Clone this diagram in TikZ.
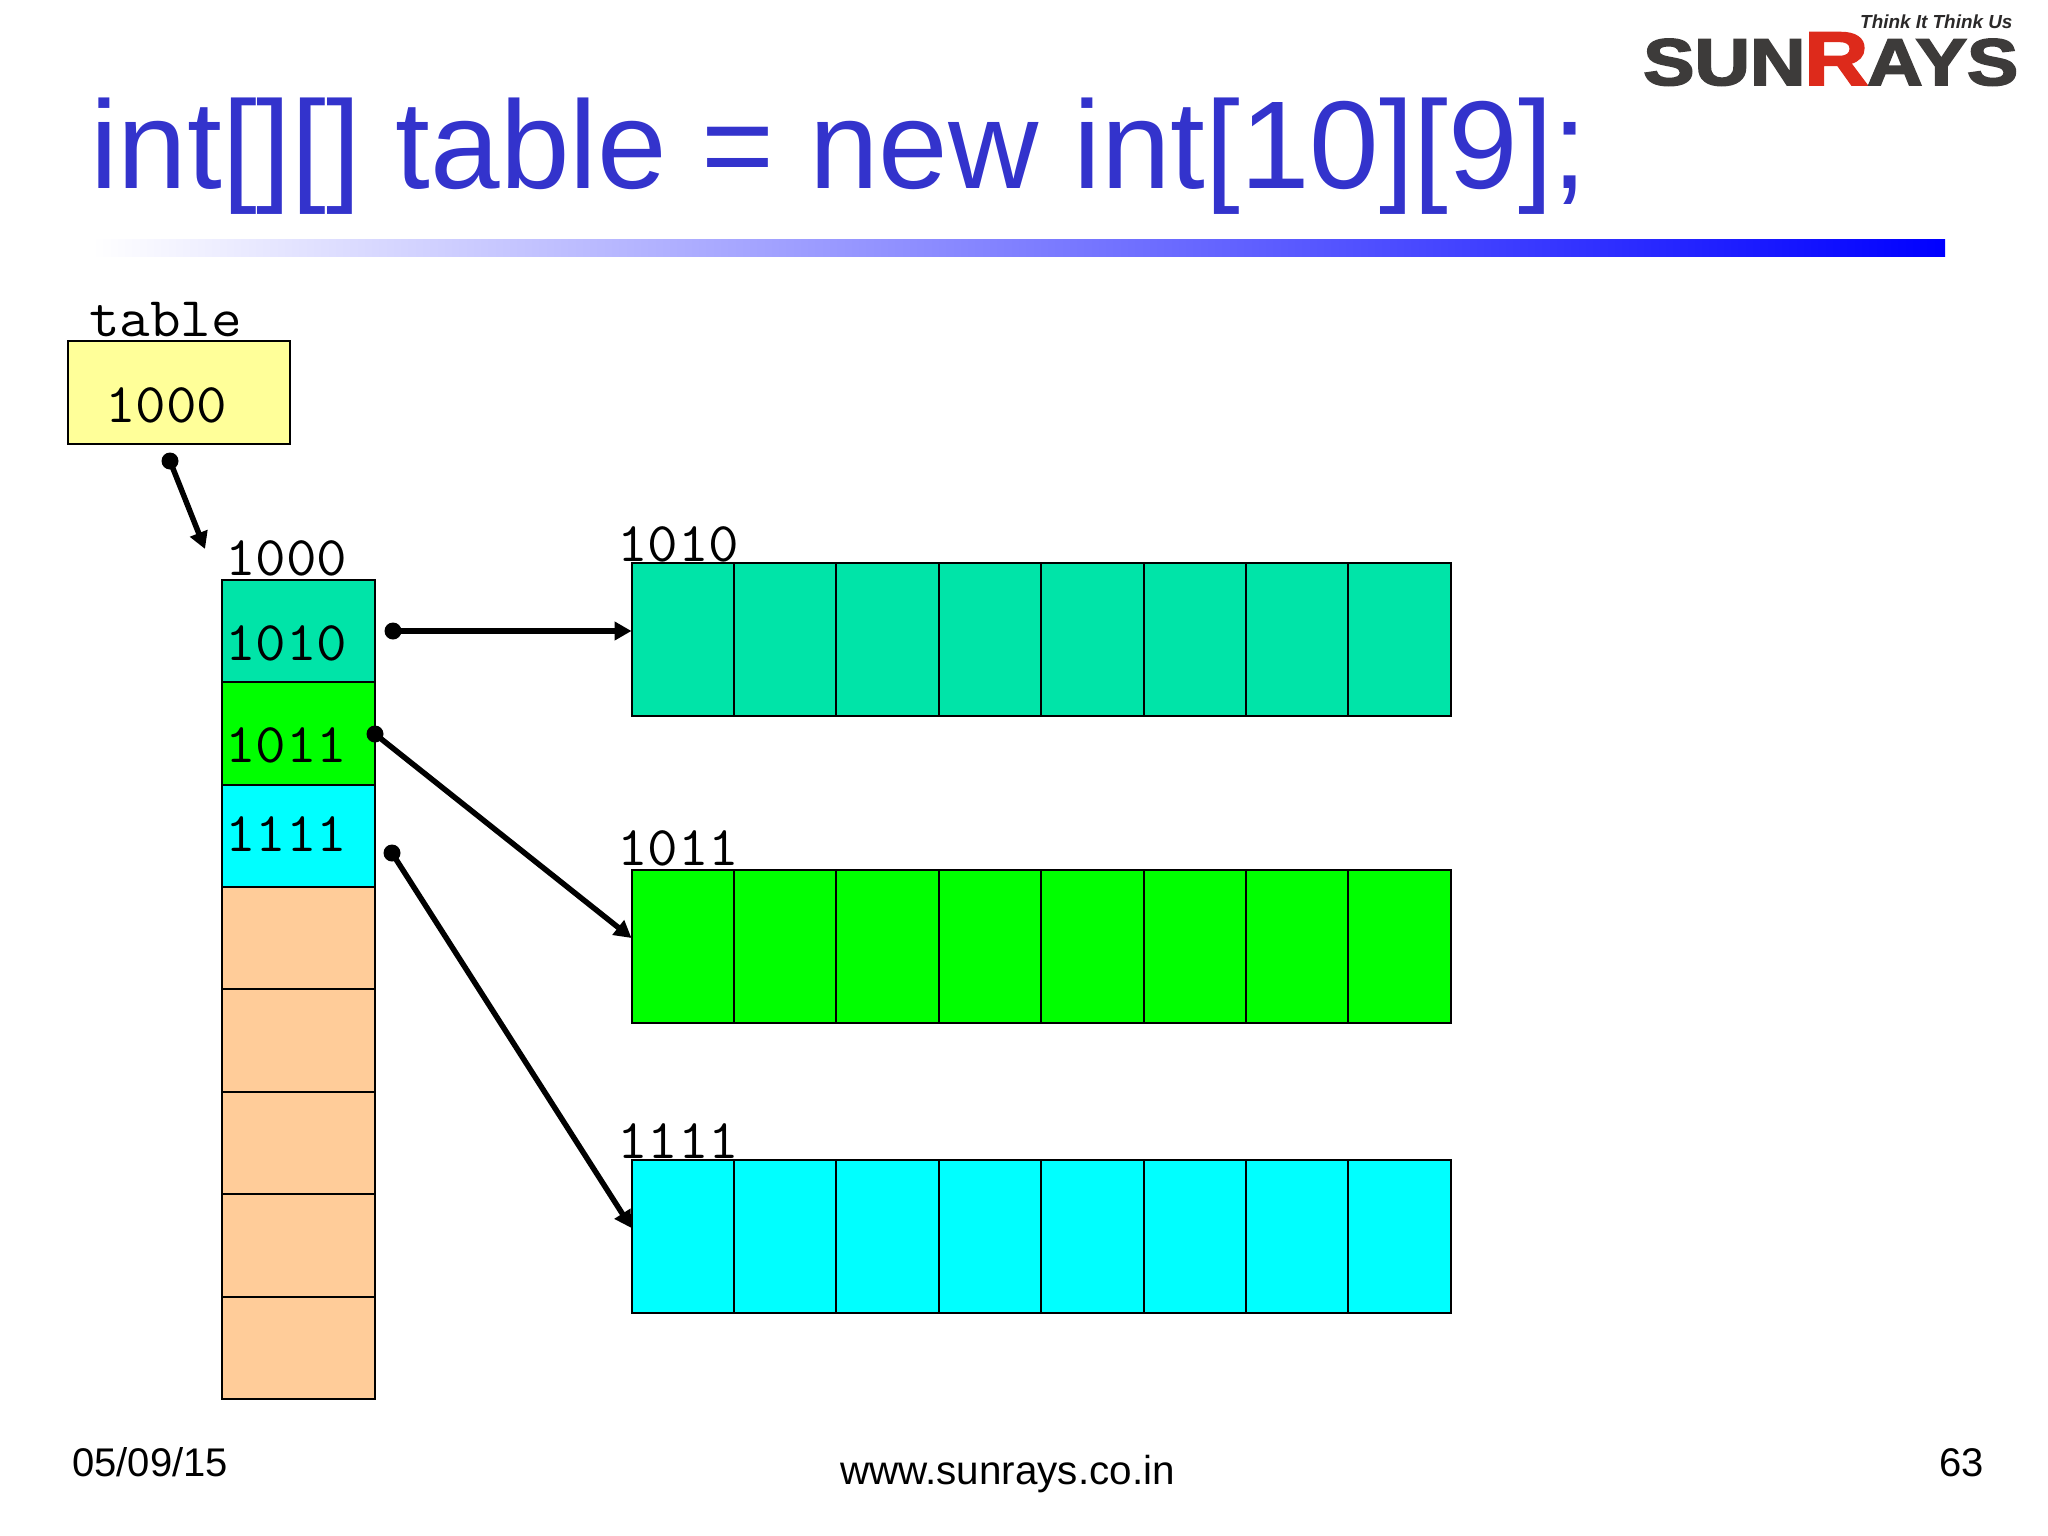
\documentclass[tikz,border=0pt]{standalone}
\usepackage{fontspec}
\usetikzlibrary{arrows.meta}
\setmainfont{Liberation Sans}
\setmonofont[FakeStretch=1.06]{Latin Modern Mono}
\newfontfamily\logofont[BoldFeatures={FakeBold=2.6}]{Liberation Sans}
\definecolor{titleblue}{HTML}{3333CC}
\definecolor{tealc}{HTML}{00E4A8}
\definecolor{greenc}{HTML}{00FF00}
\definecolor{cyanc}{HTML}{00FFFF}
\definecolor{peachc}{HTML}{FFCC99}
\definecolor{yellowc}{HTML}{FFFF99}
\definecolor{logodark}{HTML}{3D3B3A}
\definecolor{logored}{HTML}{DD2A1B}
\tikzset{
  txt/.style={inner sep=0pt,anchor=base west},
  mono/.style={txt,font=\fontsize{56}{60}\selectfont\ttfamily},
  foot/.style={txt,font=\fontsize{40}{44}\selectfont,text=black},
  cell/.style={draw=black,line width=2pt,minimum width=153.5pt,minimum height=102.4pt,inner sep=0pt},
  acell/.style={draw=black,line width=2pt,minimum width=102.4pt,minimum height=153pt,inner sep=0pt},
  dotn/.style={circle,fill=black,inner sep=0pt,minimum size=17pt},
  ptr/.style={line width=5.5pt,-{Triangle[length=17pt,width=18pt]}}
}
\begin{document}
\begin{tikzpicture}[x=1pt,y=-1pt]
\useasboundingbox (0,0) rectangle (2048,1536);
% title
\node[txt,text=titleblue,font=\fontsize{125}{130}\selectfont] (title) at (90,189) {int[][] table = new int[10][9];};
\shade[left color=white,right color=blue] (92,239) rectangle (1945,256);
% logo
\node[txt,font=\fontsize{18.9}{20}\logofont\bfseries\itshape\selectfont,text=logodark!70!black] (tag) at (1860,29) {Think It Think Us};
\node[txt] (logo) at (1643,85) {\scalebox{1.165}[1]{\fontsize{66}{70}\logofont\bfseries\selectfont\color{logodark}SUN\kern-1pt{\fontsize{76}{80}\selectfont\color{logored}R}\kern-1pt AYS}};
% table box
\node[draw=black,line width=2pt,fill=yellowc,minimum width=222pt,minimum height=103pt,inner sep=0pt] (tbl) at (179,392.5) {};
\node[mono] (tbllabel) at (89,336) {table};
\node[mono] (tblval) at (105,422) {1000};
% column
\foreach \n/\y/\c in {r1/631/tealc,r2/733.5/greenc,r3/836/cyanc,r4/938/peachc,r5/1040.5/peachc,r6/1143/peachc,r7/1245.5/peachc,r8/1348/peachc}
  \node[cell,fill=\c] (\n) at (298.7,\y) {};
\node[mono] (collabel) at (225,575) {1000};
\node[mono] (v1) at (225,660) {1010};
\node[mono] (v2) at (225,762) {1011};
\node[mono] (v3) at (225,851) {1111};
% arrays
\foreach \i/\x in {1/682.7,2/785.1,3/887.5,4/989.9,5/1092.3,6/1194.7,7/1297.1,8/1399.5}{
  \node[acell,fill=tealc] (a\i) at (\x,639.5) {};
  \node[acell,fill=greenc] (b\i) at (\x,946.5) {};
  \node[acell,fill=cyanc] (c\i) at (\x,1236.5) {};
}
\node[mono] (alabel) at (617,561) {1010};
\node[mono] (blabel) at (617,865) {1011};
\node[mono] (clabel) at (617,1158) {1111};
% pointers
\node[dotn] (d0) at (170,461) {};
\node[dotn] (d1) at (393,631) {};
\node[dotn] (d2) at (375,734) {};
\node[dotn] (d3) at (392,853) {};
\coordinate (t0) at (205,549);
\coordinate (t1) at (631.5,631);
\coordinate (t2) at (631.5,938);
\coordinate (t3) at (631.5,1228);
\draw[ptr] (d0.center) -- (t0);
\draw[ptr] (d1.center) -- (t1);
\draw[ptr] (d2.center) -- (t2);
\draw[ptr] (d3.center) -- (t3);
% footer
\node[foot] (date) at (72,1476) {05/09/15};
\node[foot,font=\fontsize{40.4}{44}\selectfont] (url) at (840,1484) {www.sunrays.co.in};
\node[foot] (page) at (1939,1476) {63};
\end{tikzpicture}
\end{document}
